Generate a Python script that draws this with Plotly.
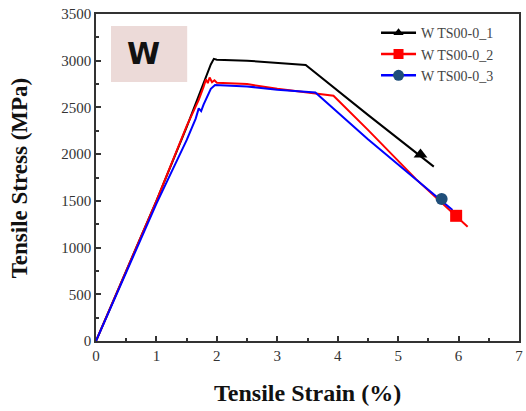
import plotly.graph_objects as go

# strain (%) / stress (MPa)
s1_x = [0, 0.5, 1.0, 1.5, 1.7, 1.8, 1.9, 1.95, 2.0, 2.5, 3.0, 3.47, 4.5, 5.59]
s1_y = [0, 760, 1500, 2290, 2620, 2780, 2960, 3020, 3010, 3000, 2975, 2955, 2420, 1866]
s2_x = [0, 0.5, 1.0, 1.5, 1.6, 1.7, 1.78, 1.82, 1.85, 1.88, 1.92, 1.96, 2.0, 2.5, 3.0, 3.5, 3.85, 3.93, 4.5, 5.3, 6.15]
s2_y = [0, 760, 1500, 2300, 2450, 2580, 2720, 2800, 2760, 2820, 2770, 2790, 2765, 2750, 2700, 2660, 2630, 2625, 2260, 1730, 1224]
s3_x = [0, 0.5, 1.0, 1.5, 1.65, 1.7, 1.74, 1.78, 1.9, 1.97, 2.5, 3.0, 3.63, 4.5, 5.3, 5.9]
s3_y = [0, 740, 1470, 2150, 2380, 2490, 2460, 2530, 2700, 2741, 2725, 2690, 2659, 2160, 1730, 1402]

names = ["W TS00-0_1", "W TS00-0_2", "W TS00-0_3"]
marker_x = [5.37, 5.96, 5.72]
marker_y = [1995, 1340, 1520]

xs = [s1_x, s2_x, s3_x]
ys = [s1_y, s2_y, s3_y]
line_colors = ["#000000", "#ff0000", "#0000ff"]
marker_colors = ["#000000", "#ff0000", "#1f4e79"]
symbols = ["triangle-up", "square", "circle"]

fig = go.Figure()
for i in range(3):
    fig.add_trace(go.Scatter(x=xs[i], y=ys[i], mode="lines", showlegend=False,
                             line=dict(color=line_colors[i], width=2)))
for i in range(3):
    fig.add_trace(go.Scatter(x=[marker_x[i]], y=[marker_y[i]], mode="markers", showlegend=False,
                             marker=dict(symbol=symbols[i], color=marker_colors[i], size=12)))
for i in range(3):
    fig.add_trace(go.Scatter(x=[None], y=[None], mode="lines+markers", name=names[i],
                             line=dict(color=line_colors[i], width=2.5),
                             marker=dict(symbol=symbols[i], color=marker_colors[i], size=[9, 10, 11][i])))

axis_font = dict(family="Liberation Serif", size=15, color="#333333")
fig.update_xaxes(range=[0, 7], dtick=1, tick0=0, ticks="inside", ticklen=5, tickwidth=1.5,
                 tickcolor="#333", showline=True, linecolor="#333", linewidth=1.5, mirror=True,
                 showgrid=False, zeroline=False, tickfont=axis_font, automargin=False,
                 minor=dict(dtick=0.5, ticks="inside", ticklen=3, tickcolor="#333"))
fig.update_yaxes(range=[0, 3500], dtick=500, tick0=0, ticks="inside", ticklen=5, tickwidth=1.5,
                 tickcolor="#333", showline=True, linecolor="#333", linewidth=1.5, mirror=True,
                 showgrid=False, zeroline=False, tickfont=axis_font, automargin=False,
                 minor=dict(dtick=250, ticks="inside", ticklen=3, tickcolor="#333"))

fig.add_shape(type="rect", xref="paper", yref="paper", x0=0.0355, x1=0.2156, y0=0.792, y1=0.963,
              fillcolor="#ecdad8", line=dict(width=0), layer="below")
fig.add_annotation(xref="paper", yref="paper", x=0.112, y=0.878, xanchor="center", yanchor="middle",
                   text="<b>W</b>", showarrow=False,
                   font=dict(family="DejaVu Sans", size=30, color="#111"))
fig.add_annotation(xref="paper", yref="paper", x=0.5, y=-0.159, xanchor="center", yanchor="middle",
                   text="<b>Tensile Strain (%)</b>", showarrow=False,
                   font=dict(family="Liberation Serif", size=24, color="#111"))
fig.add_annotation(xref="paper", yref="paper", x=-0.18, y=0.5, xanchor="center", yanchor="middle",
                   text="<b>Tensile Stress (MPa)</b>", showarrow=False, textangle=-90,
                   font=dict(family="Liberation Serif", size=23, color="#111"))

fig.update_layout(width=526, height=411, plot_bgcolor="white", paper_bgcolor="white",
                  margin=dict(l=96, r=7, t=14, b=70),
                  legend=dict(x=0.662, y=0.99, xanchor="left", yanchor="top", bgcolor="rgba(0,0,0,0)",
                              font=dict(family="Liberation Serif", size=14, color="#444"),
                              itemwidth=35, tracegroupgap=0))
fig.write_html("out.html", config={"displayModeBar": False},
               post_script="document.body.style.margin='0';document.body.style.overflow='hidden';")
